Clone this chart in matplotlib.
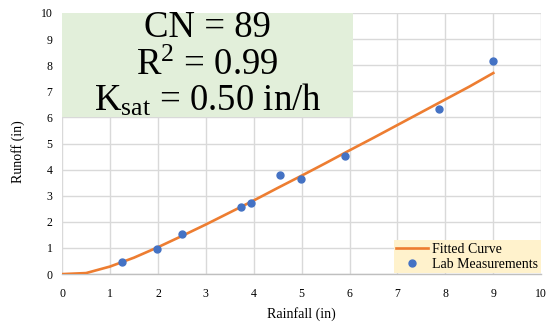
"""
Runoff vs rainfall: fitted SCS curve and lab measurements
"""

import matplotlib
matplotlib.use('Agg')
import matplotlib.pyplot as plt
from matplotlib.patches import Rectangle

# Fitted curve (0.5 in steps)
fit_rain = [0, 0.5, 1, 1.5, 2, 2.5, 3, 3.5, 4, 4.5, 5, 5.5, 6, 6.5, 7, 7.5, 8, 8.5, 9]
fit_runoff = [0, 0.04, 0.29, 0.63, 1.03, 1.46, 1.90, 2.36, 2.82, 3.30, 3.77,
              4.25, 4.74, 5.22, 5.71, 6.20, 6.69, 7.18, 7.70]

# Lab measurements
lab_rain = [1.25, 1.98, 2.50, 3.74, 3.95, 4.55, 4.99, 5.91, 7.87, 9.00]
lab_runoff = [0.46, 0.96, 1.53, 2.57, 2.72, 3.79, 3.64, 4.52, 6.32, 8.16]

ticks = list(range(0, 11))

plt.rcParams['font.family'] = ['Liberation Serif', 'DejaVu Serif']
plt.rcParams['mathtext.fontset'] = 'custom'
plt.rcParams['mathtext.rm'] = 'Liberation Serif'
plt.rcParams['mathtext.it'] = 'Liberation Serif'

fig = plt.figure(figsize=(5.5, 3.24), dpi=100)
ax = fig.add_axes([0.113, 0.154, 0.871, 0.806])

ax.plot(fit_rain, fit_runoff, color='#ed7d31', linewidth=1.9, label='Fitted Curve', zorder=3)
ax.plot(lab_rain, lab_runoff, linestyle='none', marker='o', markersize=5,
        color='#4472c4', label='Lab Measurements', zorder=4)

ax.set_xlim(0, 10)
ax.set_ylim(0, 10)
ax.set_xticks(ticks)
ax.set_yticks(ticks)
ax.tick_params(length=0, labelsize=8.5)
ax.tick_params(axis='x', pad=10)
ax.tick_params(axis='y', pad=7)
ax.grid(True, color='#d9d9d9', linewidth=1)
ax.set_axisbelow(True)
for side in ['top', 'right', 'left']:
    ax.spines[side].set_visible(False)
ax.spines['bottom'].set_color('#bfbfbf')
ax.spines['bottom'].set_linewidth(1)

ax.set_xlabel('Rainfall (in)', fontsize=10, labelpad=5)
ax.set_ylabel('Runoff (in)', fontsize=10)
ax.yaxis.set_label_coords(-0.077, 0.47)

# Parameter box
box = Rectangle((0, 0.6), 0.607, 0.4, transform=ax.transAxes,
                facecolor='#e2efda', edgecolor='none', zorder=2)
ax.add_patch(box)
lines = ['CN = 89', r'R$^{2}$ = 0.99', r'K$_{\mathrm{sat}}$ = 0.50 in/h']
ypos = [0.908, 0.762, 0.628]
for txt, yy in zip(lines, ypos):
    ax.text(0.303, yy, txt, transform=ax.transAxes, ha='center', va='baseline',
            fontsize=26.5, zorder=5)

leg = ax.legend(loc='lower right', fontsize=10, frameon=True, facecolor='#fff2cc',
                edgecolor='none', framealpha=1, fancybox=False, borderaxespad=0.05,
                handlelength=2.3, labelspacing=0.15, borderpad=0.2, handletextpad=0.25)

plt.savefig('out.png', dpi=100)
